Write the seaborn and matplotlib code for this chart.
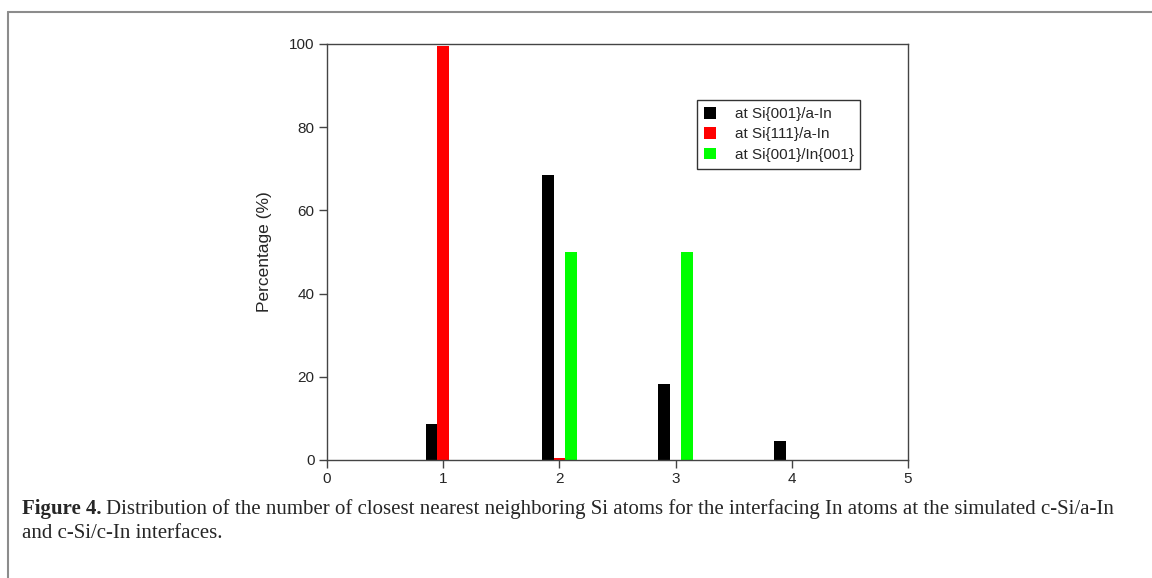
import matplotlib
matplotlib.use("Agg")
import matplotlib.pyplot as plt
import seaborn as sns
import pandas as pd
from matplotlib.lines import Line2D

# number of closest Si neighbours
neighbours = [1, 2, 3, 4]
si001_a_in = [8.7, 68.5, 18.3, 4.6]
si111_a_in = [99.6, 0.4, 0.0, 0.0]
si001_in001 = [0.0, 50.0, 50.0, 0.0]
series_names = ["at Si{001}/a-In", "at Si{111}/a-In", "at Si{001}/In{001}"]
colors = ["#000000", "#ff0000", "#00ff00"]

rows = []
for name, vals in zip(series_names, [si001_a_in, si111_a_in, si001_in001]):
    for n, v in zip(neighbours, vals):
        rows.append({"n": n, "pct": v, "interface": name})
df = pd.DataFrame(rows)

sns.set_style("white")
plt.rcParams["font.family"] = ["Liberation Sans", "DejaVu Sans"]

fig = plt.figure(figsize=(11.52, 5.78), dpi=100)
ax = fig.add_axes([0.2839, 0.2042, 0.5043, 0.7197])

sns.barplot(data=df, x="n", y="pct", hue="interface", hue_order=series_names,
            palette=colors, native_scale=True, width=0.3, dodge=True,
            linewidth=0, saturation=1, errorbar=None, ax=ax)

ax.set_xlim(0, 5)
ax.set_ylim(0, 100)
ax.set_xticks([0, 1, 2, 3, 4, 5])
ax.set_xticklabels(["0", "1", "2", "3", "4", "5"])
ax.set_yticks([0, 20, 40, 60, 80, 100])
ax.set_xlabel("")
ax.set_ylabel("Percentage (%)", fontsize=12.5, labelpad=12)
ax.tick_params(axis="both", direction="out", length=6, width=1, color="#444444",
               labelsize=11, pad=3, left=True, bottom=True)
for s in ax.spines.values():
    s.set_visible(True)
    s.set_color("#444444")
    s.set_linewidth(1)

ax.legend(handles=ax.get_legend_handles_labels()[0], labels=series_names,
          loc="upper left", bbox_to_anchor=(0.637, 0.865), fontsize=11,
          frameon=True, fancybox=False, edgecolor="#333333", framealpha=1,
          handlelength=0.8, handleheight=0.8, handletextpad=1.2,
          borderpad=0.45, labelspacing=0.4, borderaxespad=0)
ax.get_legend().get_frame().set_linewidth(1)

# outer frame lines (top and left)
fig.add_artist(Line2D([8 / 1152, 1.0], [1 - 12 / 578, 1 - 12 / 578],
                      color="#8c8c8c", linewidth=1.5))
fig.add_artist(Line2D([8 / 1152, 8 / 1152], [0, 1 - 12 / 578],
                      color="#8c8c8c", linewidth=1.5))

# caption
cap_font = ["Liberation Serif", "DejaVu Serif"]
y1 = 1 - 514 / 578
t = fig.text(22 / 1152, y1, "Figure 4.", fontsize=15, fontweight="bold",
             family=cap_font, va="baseline")
fig.canvas.draw()
bb = t.get_window_extent()
fig.text((bb.x1 + 4) / 1152, y1,
         "Distribution of the number of closest nearest neighboring Si atoms for the "
         "interfacing In atoms at the simulated c-Si/a-In",
         fontsize=15, family=cap_font, va="baseline")
fig.text(22 / 1152, 1 - 538 / 578, "and c-Si/c-In interfaces.",
         fontsize=15, family=cap_font, va="baseline")

fig.savefig("out.png", dpi=100)
